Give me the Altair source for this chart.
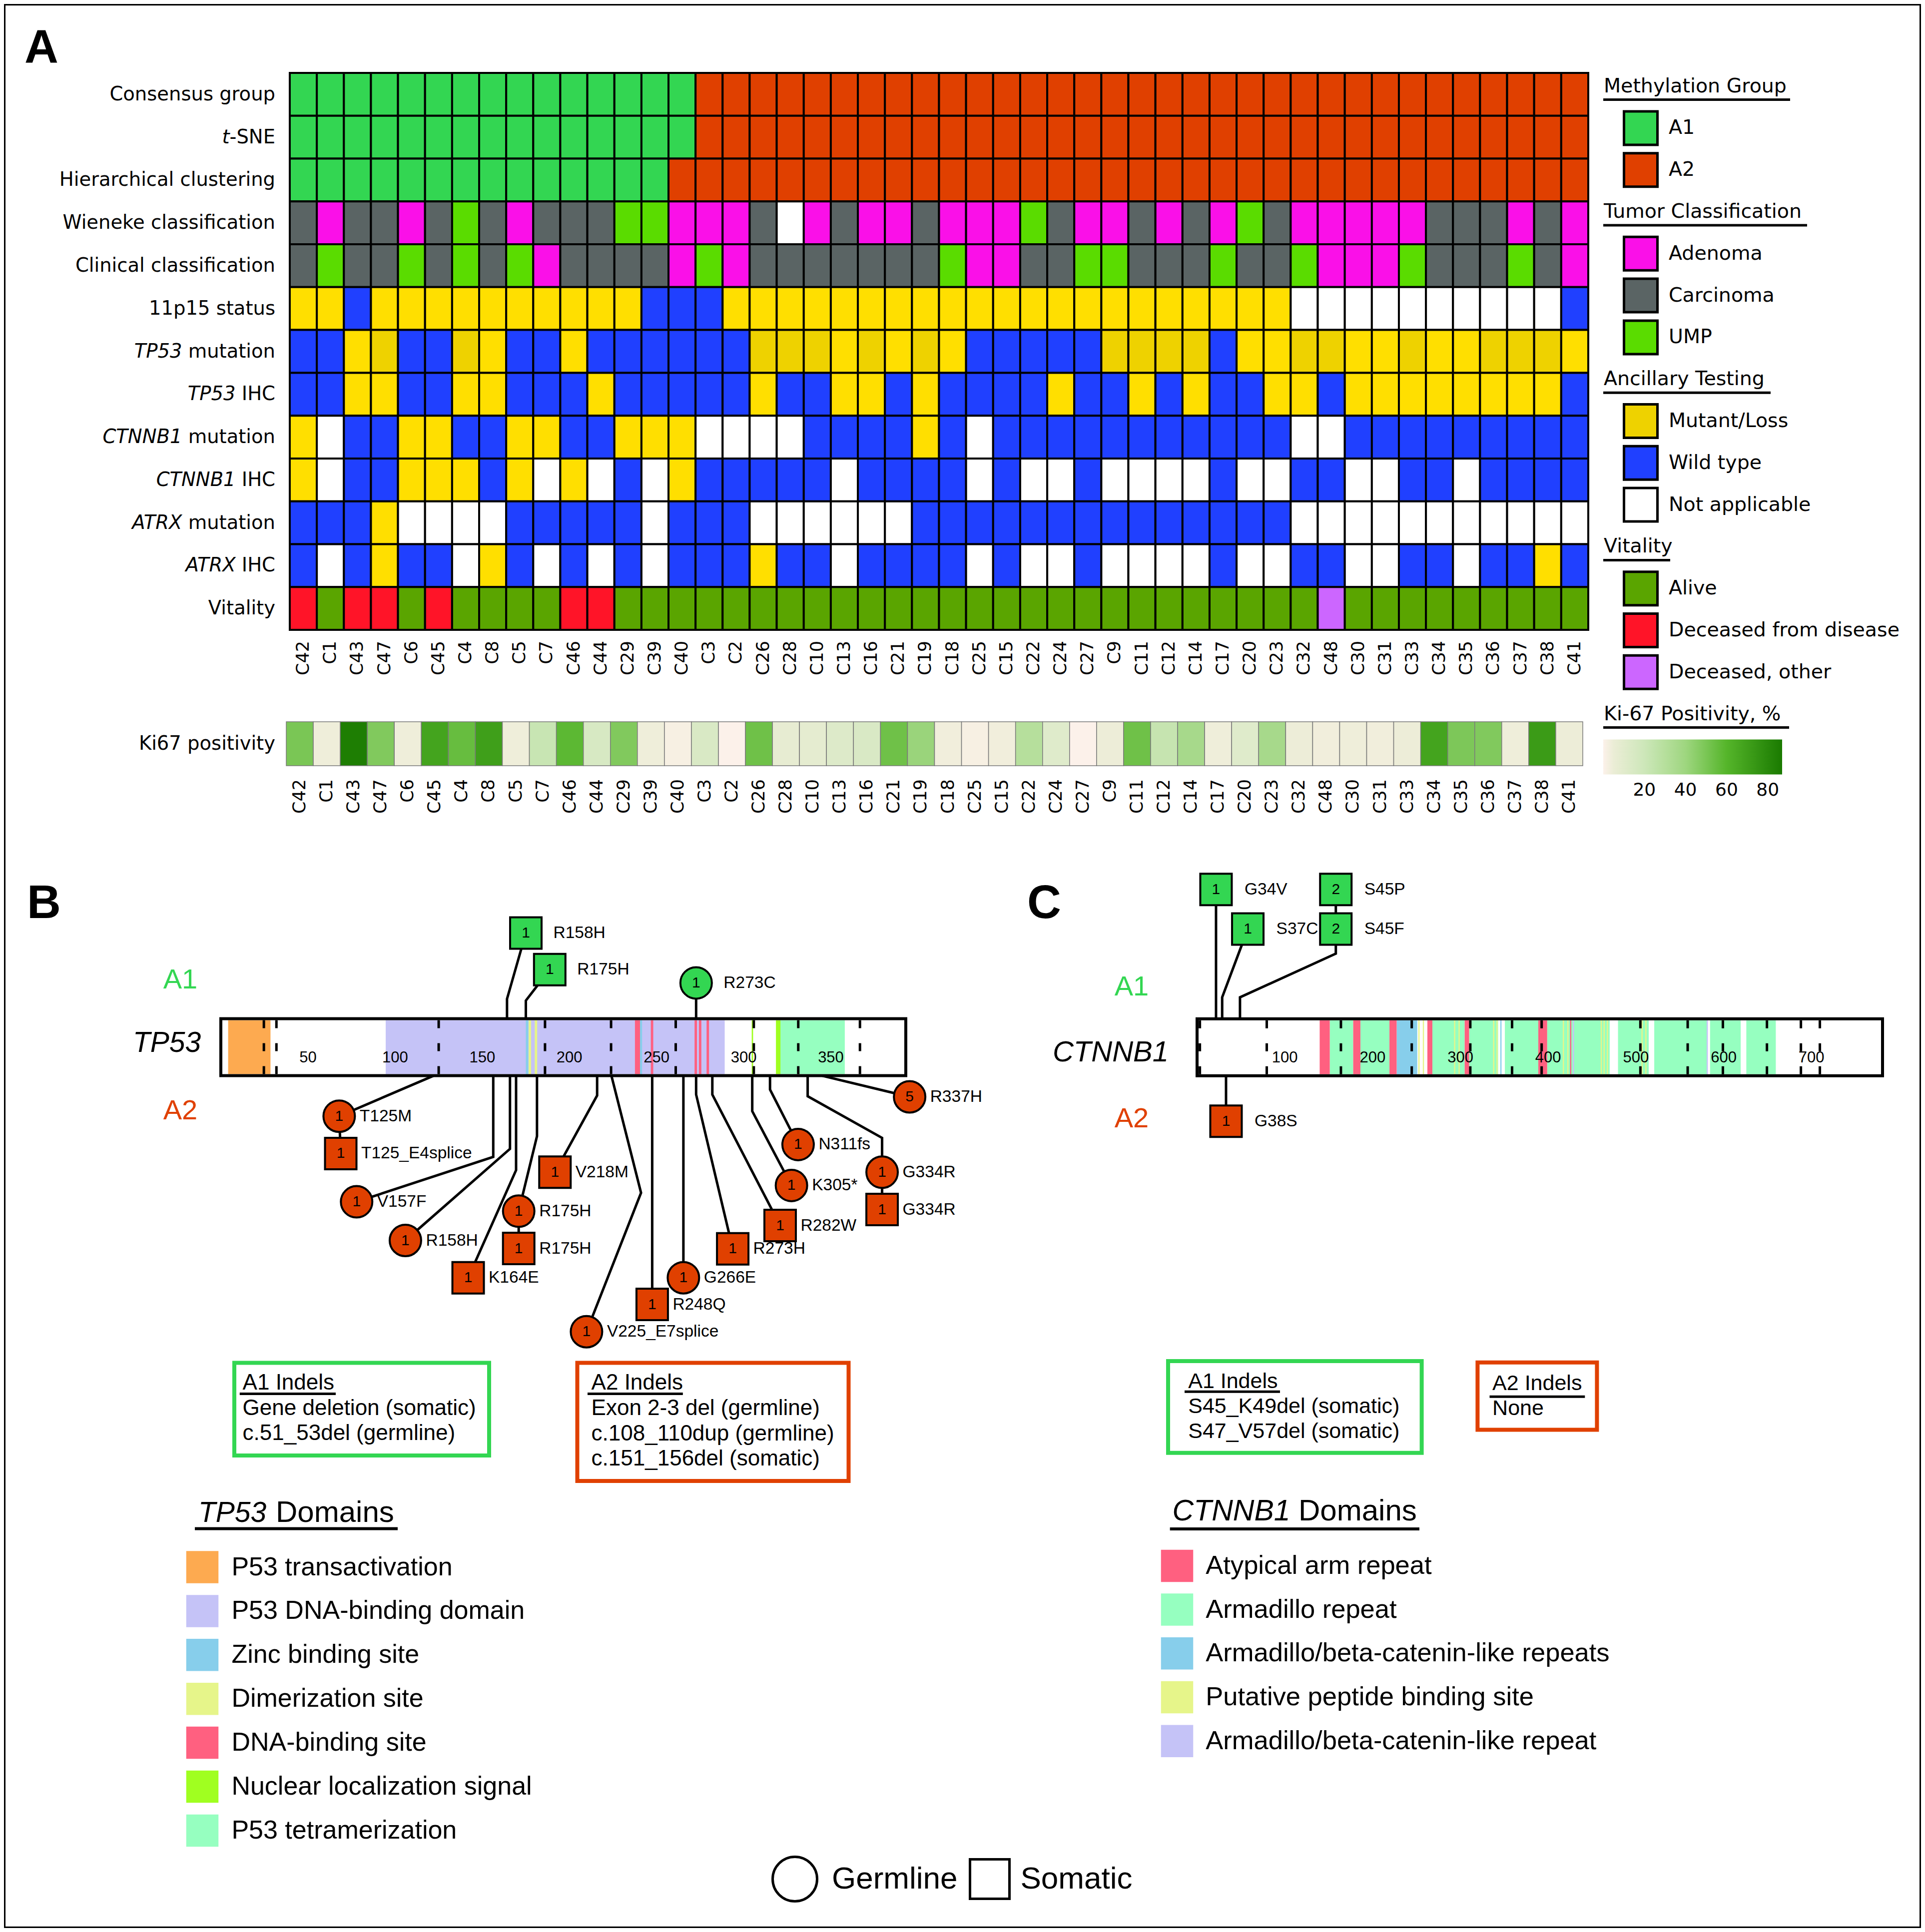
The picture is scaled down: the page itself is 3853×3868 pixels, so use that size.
import altair as alt
import pandas as pd

W, H = 3837, 3852


def P(v):
    return v - 8


FA = "DejaVu Sans"
FB = "Liberation Sans"
GREEN = "#33D652"
ORANGE = "#E04000"

# ------------------------------------------------------------------ panel A data
samples = ["C42", "C1", "C43", "C47", "C6", "C45", "C4", "C8", "C5", "C7", "C46", "C44", "C29", "C39", "C40", "C3",
           "C2", "C26", "C28", "C10", "C13", "C16", "C21", "C19", "C18", "C25", "C15", "C22", "C24", "C27", "C9", "C11",
           "C12", "C14", "C17", "C20", "C23", "C32", "C48", "C30", "C31", "C33", "C34", "C35", "C36", "C37", "C38", "C41"]

row_names = ["Consensus group", "t-SNE", "Hierarchical clustering", "Wieneke classification",
             "Clinical classification", "11p15 status", "TP53 mutation", "TP53 IHC",
             "CTNNB1 mutation", "CTNNB1 IHC", "ATRX mutation", "ATRX IHC", "Vitality"]
row_italic = ["", "t", "", "", "", "", "TP53", "TP53", "CTNNB1", "CTNNB1", "ATRX", "ATRX", ""]
row_plain = ["Consensus group", "-SNE", "Hierarchical clustering", "Wieneke classification",
             "Clinical classification", "11p15 status", "mutation", "IHC", "mutation", "IHC",
             "mutation", "IHC", "Vitality"]

# codes: G=A1 O=A2 M=Adenoma K=Carcinoma U=UMP Y/D=Mutant/Loss B=Wild type W=Not applicable
#        A=Alive R=Deceased from disease P=Deceased, other   (one code per sample, grouped by 8)
consensus_group = "GGGGGGGG GGGGGGGO OOOOOOOO OOOOOOOO OOOOOOOO OOOOOOOO"
tsne_group = "GGGGGGGG GGGGGGGO OOOOOOOO OOOOOOOO OOOOOOOO OOOOOOOO"
hier_group = "GGGGGGGG GGGGGGOO OOOOOOOO OOOOOOOO OOOOOOOO OOOOOOOO"
wieneke_class = "KMKKMKUK MKKKUUMM MKWMKMMK MMMUKMMK MKMUKMMM MMKKKMKM"
clinical_class = "KUKKUKUK UMKKKKMU MKKKKKKK UMMKKUUK KKUKKUMM MUKKKUKM"
status_11p15 = "YYBYYYYY YYYYYBBB YYYYYYYY YYYYYYYY YYYYYWWW WWWWWWWB"
tp53_mutation = "BBYDBBDY BBYBBBBB BDDDYDYD YBBBBBDD DDBYYDDY YDYYDDDY"
tp53_ihc = "BBYYBBYY BBBYBBBB BYBBYYBY BBBBYBBY BYBBYYBY YYYYYYYB"
ctnnb1_mutation = "YWBBYYBB YYBBYYYW WWWBBBBY BWBBBBBB BBBBBWWB BBBBBBBB"
ctnnb1_ihc = "YWBBYYYB YWYWBWYB BBBBWBBB BWBWWBWW WWBWWBBW WBBWBBBB"
atrx_mutation = "BBBYWWWW BBBBBWBB BWWWWWWB BBBBBBBB BBBBBWWW WWWWWWWW"
atrx_ihc = "BWBYBBWY BWBWBWBB BYBBWBBB BWBWWBWW WWBWWBBW WBBWBBYB"
vitality = "RARRARAA AARRAAAA AAAAAAAA AAAAAAAA AAAAAAPA AAAAAAAA"
row_codes = [consensus_group, tsne_group, hier_group, wieneke_class, clinical_class, status_11p15,
             tp53_mutation, tp53_ihc, ctnnb1_mutation, ctnnb1_ihc, atrx_mutation, atrx_ihc, vitality]

code_domain = ["G", "O", "M", "K", "U", "Y", "D", "B", "W", "A", "R", "P"]
code_colors = ["#33D652", "#E04000", "#FA10E8", "#5A6464", "#5ADC00", "#FFDF00", "#EED200",
               "#2040FF", "#FFFFFF", "#5AA500", "#FF1428", "#CC66FF"]

ki67 = [50, 3, 85, 48, 3, 68, 55, 70, 3, 22, 58, 15, 48, 3, 1, 14,
        0, 53, 7, 8, 12, 14, 53, 41, 2, 1, 2, 30, 11, 0, 4, 53,
        23, 36, 3, 11, 36, 4, 2, 3, 2, 4, 68, 49, 48, 3, 72, 4]
ki_domain = [0, 2, 20, 40, 60, 87]
ki_colors = ["#FCF1EA", "#F1EEDC", "#CDE7B9", "#9ED67F", "#55B52A", "#1A7A00"]
ki_ticks = [20, 40, 60, 80]

leg_entries = ["Methylation Group", "A1", "A2", "Tumor Classification", "Adenoma", "Carcinoma", "UMP",
               "Ancillary Testing", "Mutant/Loss", "Wild type", "Not applicable",
               "Vitality", "Alive", "Deceased from disease", "Deceased, other", "Ki-67 Positivity, %"]
leg_titles = ["Methylation Group", "Tumor Classification", "Ancillary Testing", "Vitality", "Ki-67 Positivity, %"]
leg_items = ["A1", "A2", "Adenoma", "Carcinoma", "UMP", "Mutant/Loss", "Wild type", "Not applicable",
             "Alive", "Deceased from disease", "Deceased, other"]
leg_item_codes = ["G", "O", "M", "K", "U", "D", "B", "W", "A", "R", "P"]

# ------------------------------------------------------------------ panel B data (TP53)
tp53_length = 393
tp53_ticks = [50, 100, 150, 200, 250, 300, 350]
tp53_exons = [24.7, 31.9, 125.0, 186.0, 223.9, 261.0, 305.8, 331.3, 366.7]
tp53_dom_name = ["P53 DNA-binding domain", "P53 transactivation", "P53 tetramerization",
                 "Zinc binding site", "Zinc binding site", "Dimerization site", "Dimerization site",
                 "DNA-binding site", "DNA-binding site", "DNA-binding site", "DNA-binding site", "DNA-binding site",
                 "Nuclear localization signal", "Nuclear localization signal"]
tp53_dom_start = [94.6, 4.2, 320.3, 175.0, 240.3, 176.6, 180.1, 237.6, 246.7, 271.8, 274.3, 278.7, 304.6, 318.5]
tp53_dom_end = [289.1, 28.5, 358.0, 176.4, 241.7, 178.0, 181.5, 240.5, 248.1, 273.2, 275.7, 280.1, 305.4, 321.1]
tp53_legend = ["P53 transactivation", "P53 DNA-binding domain", "Zinc binding site", "Dimerization site",
               "DNA-binding site", "Nuclear localization signal", "P53 tetramerization"]
tp53_legend_colors = ["#FDAA50", "#C5C3F7", "#87CEEB", "#E6F58A", "#FF6080", "#A0FF20", "#96FFC0"]

tp53_labels = ["R158H", "R175H", "R273C", "T125M", "T125_E4splice", "V157F", "R158H", "K164E", "R175H",
               "R175H", "V218M", "V225_E7splice", "R248Q", "G266E", "R273H", "R282W", "K305*", "N311fs",
               "G334R", "G334R", "R337H"]
tp53_group = ["A1", "A1", "A1"] + ["A2"] * 18
tp53_origin = ["somatic", "somatic", "germline", "germline", "somatic", "germline", "germline", "somatic",
               "germline", "somatic", "somatic", "germline", "somatic", "germline", "somatic", "somatic",
               "germline", "germline", "germline", "somatic", "germline"]
tp53_count = [1, 1, 1, 1, 1, 1, 1, 1, 1, 1, 1, 1, 1, 1, 1, 1, 1, 1, 1, 1, 5]
# stems drawn in the figure: (amino acid, height above(+)/below(-) the bar centre); last point = head
tp53_paths = [
    [(164.2, 57), (164.2, 96.7), (175.0, 228.7)],
    [(175.0, 57), (175.0, 93.3), (188.7, 155.4)],
    [(272.7, 57), (272.7, 128.7)],
    [(122.1, -57), (67.9, -138.1)],
    [(67.9, -138.1), (68.8, -212.8)],
    [(156.3, -57), (156.3, -219.5), (77.9, -309.5)],
    [(165.9, -57), (165.9, -203.5), (105.9, -386.9)],
    [(169.4, -57), (169.4, -246.2), (141.9, -461.6)],
    [(181.4, -57), (181.4, -178.1), (170.9, -328.2)],
    [(170.9, -328.2), (170.9, -402.9)],
    [(215.9, -57), (215.9, -96.7), (191.7, -250.2)],
    [(224.1, -57), (241.1, -291.5), (209.8, -569.6)],
    [(247.5, -57), (247.5, -515.0)],
    [(265.4, -57), (265.4, -461.6)],
    [(272.7, -57), (272.7, -94.7), (293.7, -403.6)],
    [(282.0, -57), (282.0, -94.7), (320.9, -356.9)],
    [(304.9, -57), (304.9, -128.1), (327.4, -276.8)],
    [(315.1, -57), (315.1, -84.7), (331.2, -194.8)],
    [(336.7, -57), (336.7, -98.1), (379.4, -181.5), (379.4, -250.2)],
    [(379.4, -250.2), (379.4, -324.9)],
    [(344.9, -57), (395.2, -99.4)],
]
tp53_a1_indels = ["Gene deletion (somatic)", "c.51_53del (germline)"]
tp53_a2_indels = ["Exon 2-3 del (germline)", "c.108_110dup (germline)", "c.151_156del (somatic)"]

# ------------------------------------------------------------------ panel C data (CTNNB1)
ctnnb1_length = 781
ctnnb1_ticks = [100, 200, 300, 400, 500, 600, 700]
ctnnb1_exons = [3.2, 79.4, 163.9, 244.6, 311.3, 358.9, 392.6, 505.1, 559.0, 599.1, 649.3, 688.0, 709.6]
ctnnb1_dom_name = (["Armadillo repeat"] * 10 + ["Armadillo/beta-catenin-like repeats"] * 2
                   + ["Atypical arm repeat"] * 7 + ["Putative peptide binding site"] * 13
                   + ["Armadillo/beta-catenin-like repeat"] * 2)
ctnnb1_dom_start = [151.2, 186.1, 268.1, 310.0, 350.7, 398.9, 479.6, 520.9, 584.5, 625.8,
                    227.4, 345.5,
                    139.7, 177.9, 219.2, 262.4, 304.9, 388.8, 425.0,
                    252.1, 257.2, 292.8, 297.9, 337.3, 341.1, 416.7, 421.8, 459.9, 463.1, 466.9, 506.3, 510.7,
                    428.1, 580.6]
ctnnb1_dom_end = [177.9, 219.2, 304.9, 343.0, 388.8, 470.1, 514.6, 581.3, 619.4, 659.4,
                  250.9, 346.9,
                  151.2, 186.1, 227.4, 268.1, 310.0, 398.9, 426.4,
                  253.5, 258.6, 294.2, 299.3, 338.7, 342.5, 418.1, 423.2, 461.3, 464.5, 468.3, 507.7, 512.1,
                  429.5, 582.0]
ctnnb1_legend = ["Atypical arm repeat", "Armadillo repeat", "Armadillo/beta-catenin-like repeats",
                 "Putative peptide binding site", "Armadillo/beta-catenin-like repeat"]
ctnnb1_legend_colors = ["#FF6080", "#96FFC0", "#87CEEB", "#E6F58A", "#C5C3F7"]

ctnnb1_labels = ["G34V", "S37C", "S45F", "S45P", "G38S"]
ctnnb1_group = ["A1", "A1", "A1", "A1", "A2"]
ctnnb1_origin = ["somatic", "somatic", "somatic", "somatic", "somatic"]
ctnnb1_count = [1, 1, 2, 2, 1]
ctnnb1_paths = [
    [(21.6, 57), (21.6, 316.0)],
    [(28.6, 57), (28.6, 100.0), (57.8, 236.7)],
    [(48.9, 57), (48.9, 100.0), (158.1, 187.5), (158.1, 236.7)],
    [(158.1, 236.7), (158.1, 316.0)],
    [(33.0, -57), (33.0, -148.1)],
]
ctnnb1_a1_indels = ["S45_K49del (somatic)", "S47_V57del (somatic)"]
ctnnb1_a2_indels = ["None"]

origin_names = ["germline", "somatic"]
origin_labels = ["Germline", "Somatic"]

# ------------------------------------------------------------------ helpers
DV = {" ": .318, "-": .361, "S": .635, "N": .748, "E": .632, "I": .295, "H": .752, "C": .698,
      "m": .974, "u": .634, "t": .392, "a": .613, "i": .278, "o": .612, "n": .634}


def dv_width(s, size):
    return sum(DV[ch] for ch in s) * size


def txt(s, x, y, size, font=FB, color="black", align="left", baseline="middle", style="normal",
        weight="normal"):
    return alt.Chart(pd.DataFrame({"t": [s]})).mark_text(
        align=align, baseline=baseline, fontSize=size, font=font, color=color,
        fontStyle=style, fontWeight=weight).encode(
        x=alt.value(P(x)), y=alt.value(P(y)), text="t:N")


def hrule(x1, x2, y, w=5, color="black"):
    return alt.Chart(pd.DataFrame({"k": [0]})).mark_rule(strokeWidth=w, color=color).encode(
        x=alt.value(P(x1)), x2=alt.value(P(x2)), y=alt.value(P(y)))


def frame(x1, y1, x2, y2, color, w):
    return alt.Chart(pd.DataFrame({"k": [0]})).mark_rect(fill="white", stroke=color, strokeWidth=w).encode(
        x=alt.value(P(x1)), x2=alt.value(P(x2)), y=alt.value(P(y1)), y2=alt.value(P(y2)))


layers = []

# ------------------------------------------------------------------ panel A heatmap
recs = []
for rname, codes in zip(row_names, row_codes):
    for s, c in zip(samples, codes.replace(" ", "")):
        recs.append({"row": rname, "sample": s, "code": c})
hm = pd.DataFrame(recs)
xs_hm = alt.Scale(domain=samples, range=[P(580), P(3179)], paddingInner=0, paddingOuter=0)
ys_hm = alt.Scale(domain=row_names, range=[P(146), P(1261)], paddingInner=0, paddingOuter=0)
code_scale = alt.Scale(domain=code_domain, range=code_colors)

layers.append(alt.Chart(hm).mark_rect(stroke="black", strokeWidth=4).encode(
    x=alt.X("sample:N", scale=xs_hm, axis=None),
    y=alt.Y("row:N", scale=ys_hm, axis=None),
    color=alt.Color("code:N", scale=code_scale, legend=None)))

ROWFS = 38.5
LABEL_RIGHT = 551
rl = pd.DataFrame({"row": row_names, "plain": row_plain, "ital": row_italic})
layers.append(alt.Chart(rl).mark_text(align="right", baseline="middle", fontSize=ROWFS, font=FA).encode(
    x=alt.value(P(LABEL_RIGHT)), y=alt.Y("row:N", scale=ys_hm, axis=None), text="plain:N"))
for plain in ["-SNE", "mutation", "IHC"]:
    sub = rl[(rl.ital != "") & (rl.plain == plain)]
    gap = 0 if plain.startswith("-") else dv_width(" ", ROWFS)
    xr = LABEL_RIGHT - dv_width(plain, ROWFS) - gap
    layers.append(alt.Chart(sub).mark_text(align="right", baseline="middle", fontSize=ROWFS, font=FA,
                                           fontStyle="italic").encode(
        x=alt.value(P(xr)), y=alt.Y("row:N", scale=ys_hm, axis=None), text="ital:N"))

layers.append(alt.Chart(pd.DataFrame({"sample": samples})).mark_text(
    angle=270, align="right", baseline="middle", fontSize=35, font=FA).encode(
    x=alt.X("sample:N", scale=xs_hm, axis=None), y=alt.value(P(1283)), text="sample:N"))

# Ki67 row
xs_ki = alt.Scale(domain=samples, range=[P(573), P(3168)], paddingInner=0, paddingOuter=0)
ys_ki = alt.Scale(domain=["Ki67 positivity"], range=[P(1445), P(1533)], paddingInner=0, paddingOuter=0)
ki_df = pd.DataFrame({"sample": samples, "ki": ki67, "row": ["Ki67 positivity"] * len(samples)})
layers.append(alt.Chart(ki_df).mark_rect(stroke="#7A7A7A", strokeWidth=1.5).encode(
    x=alt.X("sample:N", scale=xs_ki, axis=None),
    y=alt.Y("row:N", scale=ys_ki, axis=None),
    color=alt.Color("ki:Q", scale=alt.Scale(domain=ki_domain, range=ki_colors, interpolate="rgb"),
                    legend=alt.Legend(orient="none", legendX=P(3209), legendY=P(1480.5), direction="horizontal",
                                      gradientLength=358, gradientThickness=70, title=None, values=ki_ticks,
                                      labelFont=FA, labelFontSize=36, labelColor="black", labelOffset=14,
                                      gradientStrokeWidth=0, padding=0))))
layers.append(alt.Chart(ki_df.head(1)).mark_text(align="right", baseline="middle", fontSize=ROWFS, font=FA).encode(
    x=alt.value(P(LABEL_RIGHT)), y=alt.Y("row:N", scale=ys_ki, axis=None), text="row:N"))
layers.append(alt.Chart(pd.DataFrame({"sample": samples})).mark_text(
    angle=270, align="right", baseline="middle", fontSize=35, font=FA).encode(
    x=alt.X("sample:N", scale=xs_ki, axis=None), y=alt.value(P(1560)), text="sample:N"))

# small white tick marks on the Ki-67 gradient
xs_grad = alt.Scale(domain=[ki_domain[0], ki_domain[-1]], range=[P(3209), P(3567)], nice=False, zero=False)
gt = pd.DataFrame({"v": ki_ticks})
for y1, y2 in [(1481, 1492), (1539, 1550)]:
    layers.append(alt.Chart(gt).mark_rule(color="white", strokeWidth=3, opacity=0.8).encode(
        x=alt.X("v:Q", scale=xs_grad, axis=None), y=alt.value(P(y1)), y2=alt.value(P(y2))))

# legend A
LEG_TOP, LEG_BOT = 172.6, 1429.6
ys_leg = alt.Scale(type="point", domain=leg_entries, range=[P(LEG_TOP), P(LEG_BOT)], padding=0)
LEGFS = 39.5
layers.append(alt.Chart(pd.DataFrame({"entry": leg_titles})).mark_text(
    align="left", baseline="middle", fontSize=LEGFS, font=FA).encode(
    x=alt.value(P(3210)), y=alt.Y("entry:N", scale=ys_leg, axis=None), text="entry:N"))
leg_df = pd.DataFrame({"entry": leg_items, "code": leg_item_codes})
layers.append(alt.Chart(leg_df).mark_point(shape="square", filled=True, size=4489, stroke="black",
                                           strokeWidth=5, opacity=1).encode(
    x=alt.value(P(3284)), y=alt.Y("entry:N", scale=ys_leg, axis=None),
    color=alt.Color("code:N", scale=code_scale, legend=None)))
layers.append(alt.Chart(leg_df).mark_text(align="left", baseline="middle", fontSize=LEGFS, font=FA).encode(
    x=alt.value(P(3340)), y=alt.Y("entry:N", scale=ys_leg, axis=None), text="entry:N"))
step = (LEG_BOT - LEG_TOP) / (len(leg_entries) - 1)
for t, xend in zip(leg_titles, [3583, 3617, 3544, 3343, 3581]):
    yy = LEG_TOP + leg_entries.index(t) * step + 27
    layers.append(hrule(3209, xend, yy, w=5))

layers.append(txt("A", 49, 126, 94, weight="bold", baseline="alphabetic"))


# ------------------------------------------------------------------ protein panels
def protein_panel(length, x0, x1, cy, dom_name, dom_start, dom_end, dom_scale, exons, ticks,
                  labels, groups, origins, counts, paths, dx_by_group):
    xs = alt.Scale(domain=[0, length], range=[P(x0), P(x1)], nice=False, zero=False)
    ys = alt.Scale(domain=[-700, 400], range=[P(cy + 700), P(cy - 400)], nice=False, zero=False)
    X = lambda f: alt.X(f, scale=xs, axis=None)
    Y = lambda f: alt.Y(f, scale=ys, axis=None)
    out = []
    rows = []
    for i, path in enumerate(paths):
        for k, (a, l) in enumerate(path):
            rows.append({"id": i, "k": k, "aa": a, "lvl": l})
    out.append(alt.Chart(pd.DataFrame(rows)).mark_line(color="black", strokeWidth=5).encode(
        x=X("aa:Q"), y=Y("lvl:Q"), detail="id:N", order="k:Q"))
    body = pd.DataFrame({"start": [0], "end": [length], "lo": [-57], "hi": [57]})
    out.append(alt.Chart(body).mark_rect(fill="white").encode(
        x=X("start:Q"), x2="end:Q", y=Y("lo:Q"), y2="hi:Q"))
    dom = pd.DataFrame({"name": dom_name, "start": dom_start, "end": dom_end})
    dom["lo"] = -54
    dom["hi"] = 54
    out.append(alt.Chart(dom).mark_rect().encode(
        x=X("start:Q"), x2="end:Q", y=Y("lo:Q"), y2="hi:Q",
        color=alt.Color("name:N", scale=dom_scale, legend=None)))
    ex = pd.DataFrame({"aa": exons})
    ex["lo"] = -54
    ex["hi"] = 54
    out.append(alt.Chart(ex).mark_rule(strokeWidth=5, color="black", strokeDash=[16, 30]).encode(
        x=X("aa:Q"), y=Y("hi:Q"), y2="lo:Q"))
    out.append(alt.Chart(body).mark_rect(fillOpacity=0, stroke="black", strokeWidth=6).encode(
        x=X("start:Q"), x2="end:Q", y=Y("lo:Q"), y2="hi:Q"))
    tk = pd.DataFrame({"aa": ticks, "t": [str(t) for t in ticks]})
    tk["lvl"] = -21.5
    out.append(alt.Chart(tk).mark_text(fontSize=31, font=FB, align="center", baseline="middle").encode(
        x=X("aa:Q"), y=Y("lvl:Q"), text="t:N"))
    heads = pd.DataFrame({"aa": [p[-1][0] for p in paths], "lvl": [p[-1][1] for p in paths],
                          "group": groups, "origin": origins, "count": [str(c) for c in counts],
                          "label": labels})
    out.append(alt.Chart(heads).mark_point(filled=True, size=3969, stroke="black", strokeWidth=4,
                                           opacity=1).encode(
        x=X("aa:Q"), y=Y("lvl:Q"),
        shape=alt.Shape("origin:N", scale=alt.Scale(domain=origin_names, range=["circle", "square"]),
                        legend=None),
        color=alt.Color("group:N", scale=alt.Scale(domain=["A1", "A2"], range=[GREEN, ORANGE]), legend=None)))
    out.append(alt.Chart(heads).mark_text(fontSize=30, font=FB, align="center", baseline="middle").encode(
        x=X("aa:Q"), y=Y("lvl:Q"), text="count:N"))
    for g, dx in dx_by_group.items():
        sub = heads[heads.group == g]
        out.append(alt.Chart(sub).mark_text(fontSize=33.5, font=FB, align="left", baseline="middle",
                                            dx=dx).encode(
            x=X("aa:Q"), y=Y("lvl:Q"), text="label:N"))
    return out


tp53_scale = alt.Scale(domain=tp53_legend, range=tp53_legend_colors)
ctnnb1_scale = alt.Scale(domain=ctnnb1_legend, range=ctnnb1_legend_colors)

layers += protein_panel(tp53_length, 442, 1813, 2096.6, tp53_dom_name, tp53_dom_start, tp53_dom_end,
                        tp53_scale, tp53_exons, tp53_ticks, tp53_labels, tp53_group, tp53_origin,
                        tp53_count, tp53_paths, {"A1": 55, "A2": 41})
layers += protein_panel(ctnnb1_length, 2396, 3768, 2096.7, ctnnb1_dom_name, ctnnb1_dom_start,
                        ctnnb1_dom_end, ctnnb1_scale, ctnnb1_exons, ctnnb1_ticks, ctnnb1_labels,
                        ctnnb1_group, ctnnb1_origin, ctnnb1_count, ctnnb1_paths, {"A1": 57, "A2": 57})

# panel titles / group labels
layers.append(txt("B", 54, 1838, 94, weight="bold", baseline="alphabetic"))
layers.append(txt("C", 2056, 1838, 94, weight="bold", baseline="alphabetic"))
layers.append(txt("A1", 361, 1961.5, 56, color=GREEN, align="center"))
layers.append(txt("A2", 361, 2223.6, 56, color=ORANGE, align="center"))
layers.append(txt("A1", 2265, 1976, 56, color=GREEN, align="center"))
layers.append(txt("A2", 2265, 2240, 56, color=ORANGE, align="center"))
layers.append(txt("TP53", 334, 2089, 57, style="italic", align="center"))
layers.append(txt("CTNNB1", 2223, 2108, 58, style="italic", align="center"))

# indel boxes
layers.append(frame(469, 2728.5, 979, 2914, GREEN, 8))
layers.append(txt("A1 Indels", 485.6, 2769, 44))
layers.append(hrule(479.8, 672, 2790.6, w=5))
for i, s in enumerate(tp53_a1_indels):
    layers.append(txt(s, 485.6, 2820 + 50 * i, 44))
layers.append(frame(1155.5, 2728.5, 1698.5, 2965, ORANGE, 8))
layers.append(txt("A2 Indels", 1183.6, 2769, 44))
layers.append(hrule(1176, 1366.8, 2790.6, w=5))
for i, s in enumerate(tp53_a2_indels):
    layers.append(txt(s, 1183.6, 2820 + 50.7 * i, 44))

layers.append(frame(2338, 2725, 2845.6, 2908.7, GREEN, 8))
layers.append(txt("A1 Indels", 2378.2, 2766, 43))
layers.append(hrule(2371, 2562, 2786.2, w=5))
for i, s in enumerate(ctnnb1_a1_indels):
    layers.append(txt(s, 2378.2, 2816.4 + 49.2 * i, 43))
layers.append(frame(2957.4, 2727.8, 3196.4, 2862.6, ORANGE, 8))
layers.append(txt("A2 Indels", 2987.1, 2770.4, 43))
layers.append(hrule(2981.5, 3172.3, 2796.3, w=5))
for i, s in enumerate(ctnnb1_a2_indels):
    layers.append(txt(s, 2987.1, 2820, 43))

# domain legends
layers.append(txt("TP53", 397, 3047, 57, style="italic", baseline="alphabetic"))
layers.append(txt("Domains", 552, 3047, 60, baseline="alphabetic"))
layers.append(hrule(390, 796, 3060.4, w=6))
ys_tl = alt.Scale(type="point", domain=tp53_legend, range=[P(3137.5), P(3664.9)], padding=0)
tl = pd.DataFrame({"name": tp53_legend})
layers.append(alt.Chart(tl).mark_point(shape="square", filled=True, size=4160, opacity=1, strokeWidth=0).encode(
    x=alt.value(P(405)), y=alt.Y("name:N", scale=ys_tl, axis=None),
    color=alt.Color("name:N", scale=tp53_scale, legend=None)))
layers.append(alt.Chart(tl).mark_text(align="left", baseline="middle", fontSize=52, font=FB).encode(
    x=alt.value(P(463.4)), y=alt.Y("name:N", scale=ys_tl, axis=None), text="name:N"))

layers.append(txt("CTNNB1", 2346.6, 3044, 59, style="italic", baseline="alphabetic"))
layers.append(txt("Domains", 2599, 3044, 60, baseline="alphabetic"))
layers.append(hrule(2341.7, 2841, 3061, w=6))
ys_cl = alt.Scale(type="point", domain=ctnnb1_legend, range=[P(3134.9), P(3485.7)], padding=0)
cl = pd.DataFrame({"name": ctnnb1_legend})
layers.append(alt.Chart(cl).mark_point(shape="square", filled=True, size=4160, opacity=1, strokeWidth=0).encode(
    x=alt.value(P(2356)), y=alt.Y("name:N", scale=ys_cl, axis=None),
    color=alt.Color("name:N", scale=ctnnb1_scale, legend=None)))
layers.append(alt.Chart(cl).mark_text(align="left", baseline="middle", fontSize=52.5, font=FB).encode(
    x=alt.value(P(2413.3)), y=alt.Y("name:N", scale=ys_cl, axis=None), text="name:N"))

# germline / somatic legend
org = pd.DataFrame({"origin": origin_names, "name": origin_labels})
xs_org = alt.Scale(type="point", domain=origin_names, range=[P(1591), P(1981)], padding=0)
xs_orgt = alt.Scale(type="point", domain=origin_names, range=[P(1665), P(2042.5)], padding=0)
layers.append(alt.Chart(org[org.origin == "germline"]).mark_point(
    shape="circle", filled=True, fill="white", stroke="black", strokeWidth=5, size=7921, opacity=1).encode(
    x=alt.X("origin:N", scale=xs_org, axis=None), y=alt.value(P(3762))))
layers.append(alt.Chart(org[org.origin == "somatic"]).mark_point(
    shape="square", filled=True, fill="white", stroke="black", strokeWidth=5, size=6241, opacity=1).encode(
    x=alt.X("origin:N", scale=xs_org, axis=None), y=alt.value(P(3762))))
layers.append(alt.Chart(org).mark_text(align="left", baseline="middle", fontSize=62, font=FB).encode(
    x=alt.X("origin:N", scale=xs_orgt, axis=None), y=alt.value(P(3762)), text="name:N"))

chart = alt.layer(*layers).properties(
    width=W, height=H, padding=0, autosize=alt.AutoSizeParams(type="none")
).resolve_scale(
    x="independent", y="independent", color="independent", shape="independent"
).configure_view(stroke="black", strokeWidth=6)

chart.save("out.html", embed_options={"renderer": "svg", "actions": False})
